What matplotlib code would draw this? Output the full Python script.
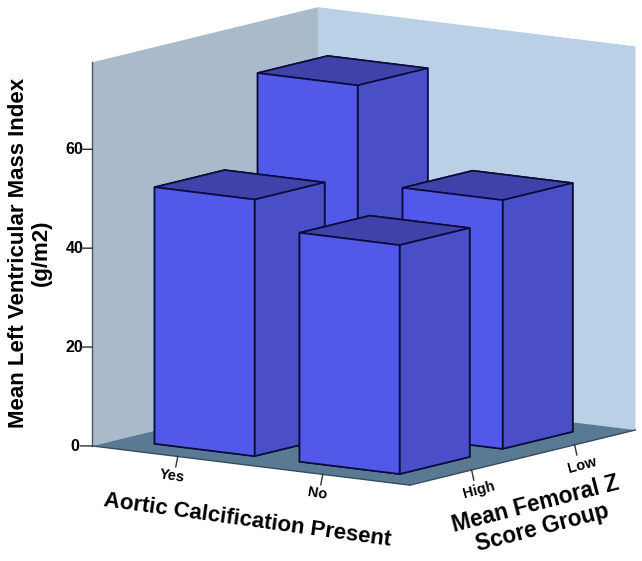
import matplotlib
matplotlib.use("Agg")
import matplotlib.pyplot as plt

plt.rcParams['font.family'] = ['Liberation Sans', 'DejaVu Sans']

calcification = ['Yes', 'No']
femoral_group = ['High', 'Low']
z_ticks = [0, 20, 40, 60]
# mean LV mass index: [calcification][femoral group]
mass_yes = [51.9, 69.9]
mass_no = [46.3, 50.3]

W, H = 642, 561
fig = plt.figure(figsize=(W / 100, H / 100), dpi=100, facecolor='white')
side = 655
cx, cy = 355, 255
ax = fig.add_axes([(cx - side / 2) / W, 1 - (cy + side / 2) / H, side / W, side / H],
                  projection='3d', computed_zorder=False)
ax.set_proj_type('ortho')
ax.view_init(elev=10, azim=-54.6)
ax.set_box_aspect((1, 1, 1), zoom=1.0)
ax.patch.set_alpha(0)
ax.set_autoscale_on(False)

XLIM = (-0.59, 1.6)
YLIM = (-0.60, 1.59)
ZLIM = (0, 77.6)
ax.set_xlim(*XLIM)
ax.set_ylim(*YLIM)
ax.set_zlim(*ZLIM)

ax.xaxis.set_pane_color('#A9BACB')
ax.yaxis.set_pane_color('#BAD0E6')
ax.zaxis.set_pane_color('#5A7A94')
ax.grid(False)
NONE = (0, 0, 0, 0)
for a in (ax.xaxis, ax.yaxis, ax.zaxis):
    a.pane.set_linewidth(0)
    a._axinfo['tick']['color'] = NONE
    a._axinfo['tick']['linewidth'] = {True: 0, False: 0}
ax.xaxis.line.set_color('#3A4A5A')
ax.yaxis.line.set_color('#3A4A5A')
ax.zaxis.line.set_color('#555555')
for a in (ax.xaxis, ax.yaxis, ax.zaxis):
    a.line.set_linewidth(1.0)

ax.set_xticks([0, 1], calcification, fontsize=10.5, fontweight='bold')
ax.set_yticks([0, 1], femoral_group, fontsize=10.5, fontweight='bold')
ax.set_zticks(z_ticks, [str(v) for v in z_ticks], fontsize=11.5, fontweight='bold')
ax.tick_params(axis='x', labelrotation=-9, pad=-2)
ax.tick_params(axis='y', labelrotation=15, pad=-2.5)
ax.tick_params(axis='z', pad=0)
ax.zaxis.set_ticks_position('lower')
for t in ax.zaxis.get_major_ticks():
    t.label1.set_va('center')

# tick marks hanging off the box edges
TICK = '#333333'
for xv in range(len(calcification)):
    ax.plot([xv, xv], [YLIM[0], YLIM[0] - 0.02], [0, -2.0], color=TICK, lw=1, zorder=3)
for yv in range(len(femoral_group)):
    ax.plot([XLIM[1], XLIM[1] + 0.015], [yv, yv], [0, -2.0], color=TICK, lw=1, zorder=3)
for zv in z_ticks:
    ax.plot([XLIM[0], XLIM[0] - 0.055], [YLIM[0], YLIM[0] - 0.038], [zv, zv], color=TICK, lw=1, zorder=3)

FACE = ['#4A4FC8', '#3F42A8', '#5258E8', '#5258E8', '#5258E8', '#4A4FC8']
bw_x, bw_y = 0.69, 0.68
order = [(0, 1, mass_yes[1]), (1, 1, mass_no[1]), (0, 0, mass_yes[0]), (1, 0, mass_no[0])]
for i, (xi, yi, val) in enumerate(order):
    ax.bar3d(xi - bw_x / 2, yi - bw_y / 2, 0, bw_x, bw_y, val, color=FACE, shade=False,
             edgecolor='#0B0B3A', linewidth=1.2, zorder=5 + i)

fig.text(30 / W, 1 - 253 / H, 'Mean Left Ventricular Mass Index\n(g/m2)', rotation=90,
         ha='center', va='center', fontsize=16, fontweight='bold', linespacing=1.15)
fig.text(247 / W, 1 - 520 / H, 'Aortic Calcification Present', rotation=-7.9,
         ha='center', va='center', fontsize=16, fontweight='bold')
fig.text(539 / W, 1 - 516 / H, 'Mean Femoral Z\nScore Group', rotation=14.5,
         ha='center', va='center', fontsize=16.3, fontweight='bold', linespacing=1.05)

fig.savefig('out.png', dpi=100, facecolor='white')
